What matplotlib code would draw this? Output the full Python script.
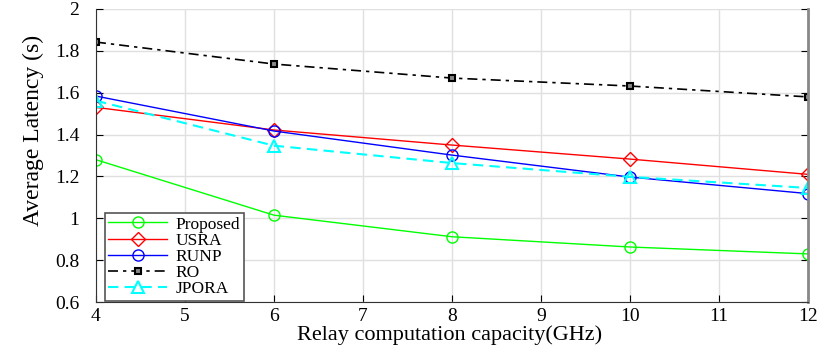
import matplotlib.pyplot as plt

plt.rcParams['font.family'] = ['Liberation Serif', 'DejaVu Serif']

capacity = [4, 6, 8, 10, 12]
proposed = [1.28, 1.015, 0.912, 0.863, 0.83]
usra = [1.53, 1.422, 1.35, 1.283, 1.21]
runp = [1.584, 1.417, 1.302, 1.197, 1.118]
ro = [1.842, 1.737, 1.67, 1.632, 1.58]
jpora = [1.562, 1.347, 1.264, 1.198, 1.145]

fig = plt.figure(figsize=(8.31, 3.46), dpi=100)
ax = fig.add_axes([0.1155, 0.127, 0.857, 0.847])

ax.plot(capacity, proposed, color='#00ff00', lw=1, marker='o', ms=8, mfc='none', mew=1, label='Proposed')
ax.plot(capacity, usra, color='red', lw=1, marker='D', ms=7, mfc='none', mew=1, label='USRA')
ax.plot(capacity, runp, color='blue', lw=1, marker='o', ms=8, mfc='none', mew=1, label='RUNP')
ax.plot(capacity, ro, color='black', lw=1.2, ls=(0, (6, 3, 2, 3)), marker='s', ms=5, mfc='#888888', mew=1.5, label='RO')
ax.plot(capacity, jpora, color='cyan', lw=1.5, ls=(0, (5, 3)), marker='^', ms=8, mfc='none', mew=1.5, label='JPORA')

ax.set_xlim(4, 12)
ax.set_ylim(0.6, 2)
ax.set_xticks(range(4, 13))
ax.set_yticks([0.6, 0.8, 1, 1.2, 1.4, 1.6, 1.8, 2])
ax.set_yticklabels(['0.6', '0.8', '1', '1.2', '1.4', '1.6', '1.8', '2'])
ax.tick_params(direction='in', labelsize=14, right=True, length=5)
ax.tick_params(axis='x', pad=4)
ax.tick_params(axis='y', pad=12)
ax.grid(True, color='#e0e0e0', lw=1)
ax.spines['top'].set_visible(False)
ax.spines['right'].set_color('#888888')
ax.spines['right'].set_linewidth(2)
ax.spines['left'].set_color('#333333')
ax.spines['bottom'].set_color('#333333')

ax.set_xlabel('Relay computation capacity(GHz)', fontsize=16)
ax.xaxis.set_label_coords(0.496, -0.112, transform=ax.transAxes)
ax.xaxis.label.set_va('center')
ax.set_ylabel('Average Latency (s)', fontsize=17)
ax.yaxis.set_label_coords(-0.088, 0.587, transform=ax.transAxes)
ax.yaxis.label.set_va('center')

leg = ax.legend(loc='lower left', bbox_to_anchor=(0.012, 0.005), fontsize=12.5,
                fancybox=False, framealpha=1, edgecolor='#555555',
                handlelength=3.4, borderpad=0.2, labelspacing=0.0,
                handletextpad=0.5, borderaxespad=0)
leg.get_frame().set_linewidth(1.2)

fig.savefig('out.png', dpi=100)
